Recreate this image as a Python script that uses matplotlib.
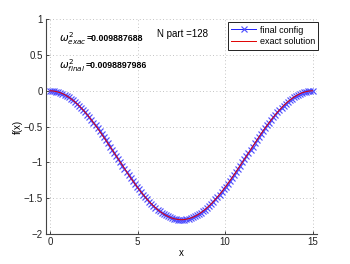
import numpy as np
import matplotlib
matplotlib.use("Agg")
import matplotlib.pyplot as plt

plt.rcParams['font.family'] = ['Liberation Sans', 'DejaVu Sans']

n_part = 128
x = np.linspace(0, 15, n_part)
f_final = [0.000, -0.001, -0.004, -0.010, -0.018, -0.027, -0.039, -0.053, -0.070, -0.088,
           -0.108, -0.130, -0.154, -0.180, -0.207, -0.237, -0.268, -0.300, -0.334, -0.369,
           -0.406, -0.444, -0.483, -0.522, -0.563, -0.605, -0.647, -0.690, -0.734, -0.778,
           -0.822, -0.867, -0.911, -0.956, -1.000, -1.044, -1.088, -1.131, -1.174, -1.216,
           -1.257, -1.298, -1.337, -1.376, -1.413, -1.449, -1.483, -1.516, -1.548, -1.578,
           -1.607, -1.633, -1.658, -1.681, -1.702, -1.722, -1.739, -1.754, -1.767, -1.778,
           -1.787, -1.793, -1.798, -1.800,
           -1.800, -1.798, -1.793, -1.787, -1.778, -1.767, -1.754, -1.739, -1.722, -1.702,
           -1.681, -1.658, -1.633, -1.607, -1.578, -1.548, -1.516, -1.483, -1.449, -1.413,
           -1.376, -1.337, -1.298, -1.257, -1.216, -1.174, -1.131, -1.088, -1.044, -1.000,
           -0.956, -0.911, -0.867, -0.822, -0.778, -0.734, -0.690, -0.647, -0.605, -0.563,
           -0.522, -0.483, -0.444, -0.406, -0.369, -0.334, -0.300, -0.268, -0.237, -0.207,
           -0.180, -0.154, -0.130, -0.108, -0.088, -0.070, -0.053, -0.039, -0.027, -0.018,
           -0.010, -0.004, -0.001, 0.000]
f_exact = list(f_final)

xticks = [0, 5, 10, 15]
yticks = [-2, -1.5, -1, -0.5, 0, 0.5, 1]
omega_exac = "0.009887688"
omega_final = "0.0098897986"

fig = plt.figure(figsize=(3.5, 2.64), dpi=100)
ax = fig.add_axes([0.1306, 0.1136, 0.9054 - 0.1306, 0.927 - 0.1136])

ax.plot(x, f_final, color='#2020ff', lw=0.7, marker='x', ms=3.8, mew=0.85,
        mec='#5050ff', label='final config')
ax.plot(x, f_exact, color='#e00000', lw=0.7, label='exact solution')

ax.set_xlim(-0.25, 15.25)
ax.set_ylim(-2, 1)
ax.set_xticks(xticks)
ax.set_xticklabels([str(t) for t in xticks])
ax.set_yticks(yticks)
ax.set_yticklabels(['\u22122', '\u22121.5', '\u22121', '\u22120.5', '0', '0.5', '1'])
ax.grid(True, linestyle=(0, (1, 3)), color='#b0b0b0', lw=0.6)
ax.tick_params(direction='in', length=2.5, width=0.6, labelsize=7, pad=2, colors='#222222')
for s in ['top', 'right']:
    ax.spines[s].set_visible(False)
for s in ['left', 'bottom']:
    ax.spines[s].set_linewidth(0.8)
    ax.spines[s].set_color('#444444')

ax.set_xlabel('x', fontsize=7, labelpad=1)
ax.set_ylabel('f(x)', fontsize=7, labelpad=1)

t1 = ax.text(0.5, 0.73, r'$\omega^2_{exac}$', fontsize=7.5, va='center')
ax.annotate('=' + omega_exac, xy=(1.0, 0.5), xycoords=t1, fontsize=6.3,
            fontweight='bold', va='center', ha='left')
t2 = ax.text(0.5, 0.35, r'$\omega^2_{final}$', fontsize=7.5, va='center')
ax.annotate('=' + omega_final, xy=(1.0, 0.5), xycoords=t2, fontsize=6.3,
            fontweight='bold', va='center', ha='left')
ax.text(6.1, 0.79, 'N part =%d' % n_part, fontsize=7, va='center')

leg = ax.legend(loc='upper right', bbox_to_anchor=(1.005, 0.985), fontsize=6.5,
                fancybox=False, framealpha=1, edgecolor='#222222', borderpad=0.35,
                handlelength=2.8, handletextpad=0.4, labelspacing=0.3, borderaxespad=0)
leg.get_frame().set_linewidth(0.7)

fig.savefig('out.png', dpi=100)
